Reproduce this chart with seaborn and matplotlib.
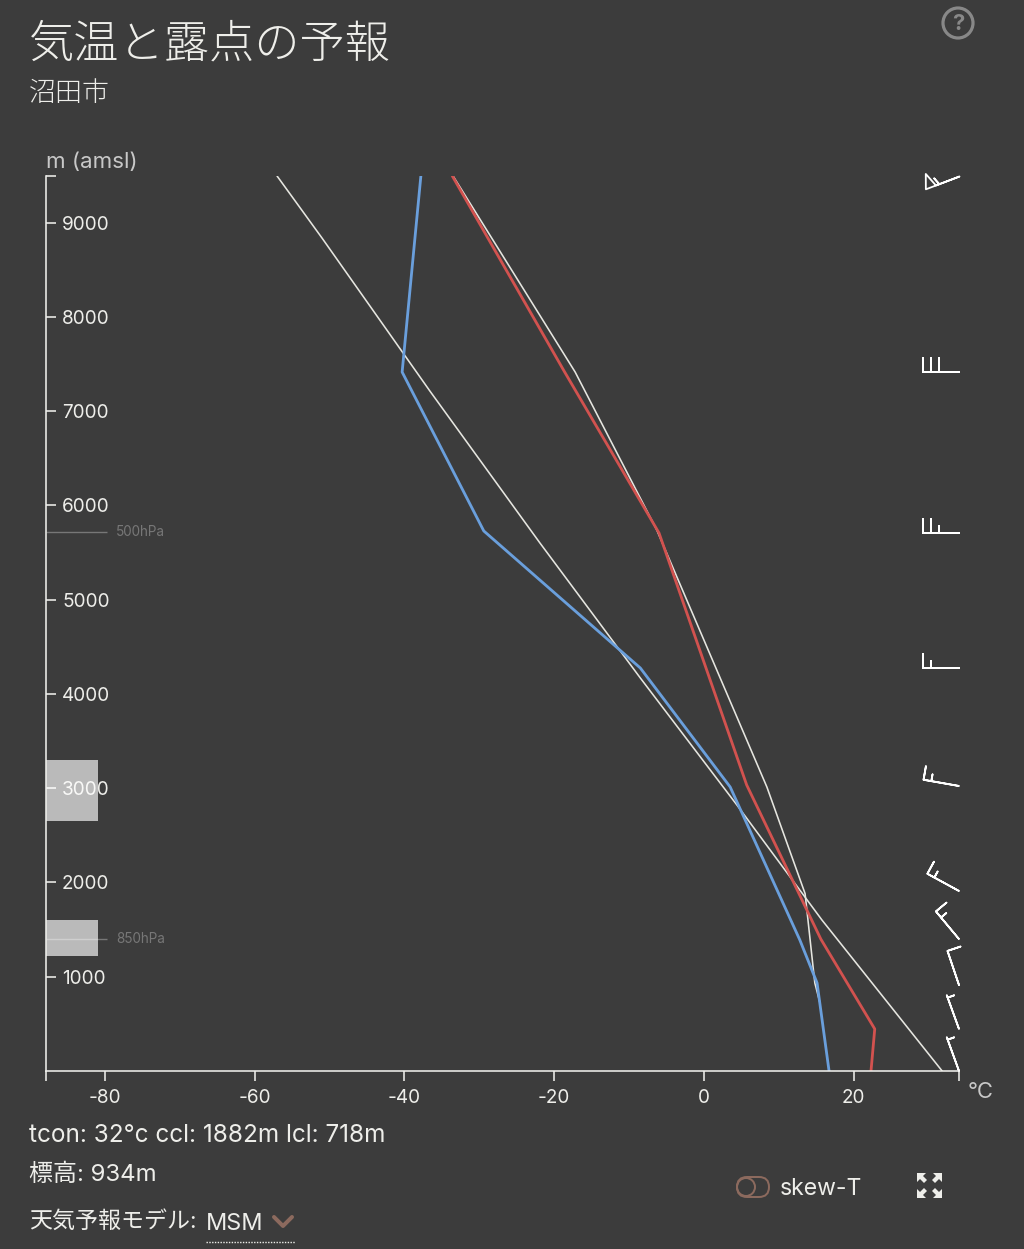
import matplotlib
matplotlib.use("Agg")
import matplotlib.pyplot as plt
from matplotlib.lines import Line2D
from matplotlib.patches import Circle, FancyBboxPatch, Polygon
import pandas as pd
import seaborn as sns

# profile data
temp_c = [22.3, 22.8, 15.6, 5.7, -6.0, -18.6, -33.6]
temp_m = [0, 446, 1400, 3035, 5708, 7416, 9496]
dew_c = [16.7, 15.1, 12.8, 3.5, -8.5, -29.4, -40.3, -37.8]
dew_m = [0, 934, 1390, 3013, 4276, 5730, 7416, 9496]
dry_c = [31.8, 15.75, 4.4, -8.5, -21.9, -36.6, -51.0, -57.0]
dry_m = [0, 1602, 2822, 4170, 5602, 7215, 8838, 9496]
moist_c = [15.5, 14.8, 13.5, 8.4, -6.3, -17.2, -33.5]
moist_m = [718, 934, 1882, 3013, 5740, 7416, 9496]

# wind barbs, components in knots
wind_m = [9496, 7416, 5708, 4276, 3024, 1910, 1400, 912, 446, 0]
wind_u = [51.4, 30, 25, 15, 14.8, 13.2, 9.6, 3.2, 1.7, 1.7]
wind_v = [19.6, 0, 0, 0, -2.6, -7.2, -11.5, -9.5, -4.7, -4.7]

cloud_lo = [1220, 2652]
cloud_hi = [1602, 3300]
hpa_m = [1400, 5720]
hpa_labels = ["850hPa", "500hPa"]

x_ticks = [-80, -60, -40, -20, 0, 20]
y_ticks = [1000, 2000, 3000, 4000, 5000, 6000, 7000, 8000, 9000]
xlim = (-87.85, 34.05)
ylim = (0, 9496)

BG = "#3c3c3c"
FG = "#eeeeea"
BROWN = "#8c6a5e"
PT = 0.72  # one pixel in points at dpi 100

sns.set_theme(style="dark", rc={"figure.facecolor": BG, "axes.facecolor": BG})
plt.rcParams['font.family'] = ['Inter', 'Noto Sans CJK JP', 'DejaVu Sans']
plt.rcParams['axes.unicode_minus'] = False

fig = plt.figure(figsize=(10.24, 12.49), dpi=100)
ax = fig.add_axes([46 / 1024, 1 - 1071 / 1249, 913 / 1024, 895 / 1249])


def ftext(x, y, s, **kw):
    kw.setdefault("va", "center")
    kw.setdefault("color", FG)
    fig.text(x / 1024, 1 - y / 1249, s, **kw)


def fline(xs, ys, **kw):
    fig.add_artist(Line2D([x / 1024 for x in xs], [1 - y / 1249 for y in ys],
                          transform=fig.transFigure, **kw))


# lines
for xs, ys, col, lw in [(dry_c, dry_m, "#e6e6e0", 1.6), (moist_c, moist_m, "#e6e6e0", 1.6),
                        (temp_c, temp_m, "#d2524f", 2.8), (dew_c, dew_m, "#6a9fdc", 2.8)]:
    df = pd.DataFrame({"c": xs, "m": ys})
    sns.lineplot(data=df, x="c", y="m", sort=False, estimator=None, color=col,
                 linewidth=lw * PT, ax=ax)

# pressure levels and cloud bands
for h, lab in zip(hpa_m, hpa_labels):
    ax.hlines(h, xlim[0], -79.7, color="#777777", linewidth=1.4 * PT, zorder=1)
    ax.text(-78.5, h, lab, color="#777777", fontsize=13.5 * PT, va="center")
for lo, hi in zip(cloud_lo, cloud_hi):
    ax.axhspan(lo, hi, xmin=0, xmax=52 / 913, color="white", alpha=0.65, linewidth=0, zorder=1.5)

# wind barbs
barb_kw = dict(pivot="tip", length=7.2, barbcolor="white", flagcolor=BG,
               linewidth=1.8 * PT, clip_on=False, zorder=4)
ax.barbs([xlim[1]] * 1, wind_m[:1], wind_u[:1], wind_v[:1], **barb_kw,
         sizes=dict(height=0.4, width=0.3, spacing=0.1))
ax.barbs([xlim[1]] * 7, wind_m[1:8], wind_u[1:8], wind_v[1:8], **barb_kw,
         sizes=dict(height=0.38, width=0, spacing=0.22))
ax.barbs([xlim[1]] * 2, wind_m[8:], wind_u[8:], wind_v[8:], **barb_kw,
         sizes=dict(height=0.38, width=0, spacing=0.05))

# axes
ax.set_xlim(*xlim)
ax.set_ylim(*ylim)
ax.set_xlabel("")
ax.set_ylabel("")
ax.grid(False)
for s in ["top", "right"]:
    ax.spines[s].set_visible(False)
for s in ["left", "bottom"]:
    ax.spines[s].set_color(FG)
    ax.spines[s].set_linewidth(1.6 * PT)
ax.set_xticks(x_ticks)
ax.set_yticks(y_ticks)
ax.set_xticks(list(xlim), minor=True)
ax.set_yticks([ylim[1]], minor=True)
ax.tick_params(axis="x", which="both", direction="out", length=10 * PT, width=1.6 * PT,
               color=FG, labelcolor=FG, labelsize=19 * PT, pad=8 * PT, bottom=True)
ax.tick_params(axis="y", which="both", direction="in", length=10 * PT, width=1.6 * PT,
               color=FG, labelcolor=FG, labelsize=19 * PT, pad=-16 * PT, left=True)
for t in ax.get_yticklabels():
    t.set_ha("left")

# header and footer text
ftext(29, 46, "気温と露点の予報", fontsize=45.3 * PT, weight="light")
ftext(29, 94, "沼田市", fontsize=27 * PT, weight="light")
ftext(46, 162, "m (amsl)", fontsize=22.3 * PT, color="#c8c8c8")
ftext(968, 1092, "°C", fontsize=22 * PT, color="#c8c8c8")
ftext(29, 1136, "tcon: 32°c ccl: 1882m lcl: 718m", fontsize=24.3 * PT)
ftext(29, 1175, "標高: 934m", fontsize=24 * PT)
ftext(29, 1222, "天気予報モデル:", fontsize=23 * PT)
ftext(206, 1224, "MSM", fontsize=23.5 * PT)
ftext(780, 1189, "skew-T", fontsize=23 * PT)
fline([206, 295], [1242, 1242], color=FG, linewidth=1.4 * PT, linestyle=(0, (1, 1)))
fline([274, 283, 292], [1217, 1226, 1217], color=BROWN, linewidth=4 * PT)

# toggle icon
fig.add_artist(FancyBboxPatch((737, 1249 - 1197), 32, 20, boxstyle="round,pad=0,rounding_size=10",
                              transform=None, fill=False, edgecolor=BROWN, linewidth=2 * PT))
fig.add_artist(Circle((746, 1249 - 1187), 9, transform=None, fill=False, edgecolor=BROWN,
                      linewidth=2 * PT))
# help icon
fig.add_artist(Circle((958, 1249 - 23), 15, transform=None, fill=False, edgecolor="#888888",
                      linewidth=3.2 * PT))
ftext(958, 24, "?", fontsize=22 * PT, color="#888888", ha="center", weight="bold")

# expand icon
for cx, cy, sx, sy in [(917, 1173, 1, 1), (942, 1173, -1, 1), (917, 1198, 1, -1), (942, 1198, -1, -1)]:
    pts = [(cx, cy), (cx + 9 * sx, cy), (cx + 6 * sx, cy + 3 * sy), (cx + 10 * sx, cy + 7 * sy),
           (cx + 7 * sx, cy + 10 * sy), (cx + 3 * sx, cy + 6 * sy), (cx, cy + 9 * sy)]
    fig.add_artist(Polygon([(x, 1249 - y) for x, y in pts], transform=None, facecolor=FG,
                           edgecolor="none"))

fig.savefig("out.png", dpi=100, facecolor=BG)
